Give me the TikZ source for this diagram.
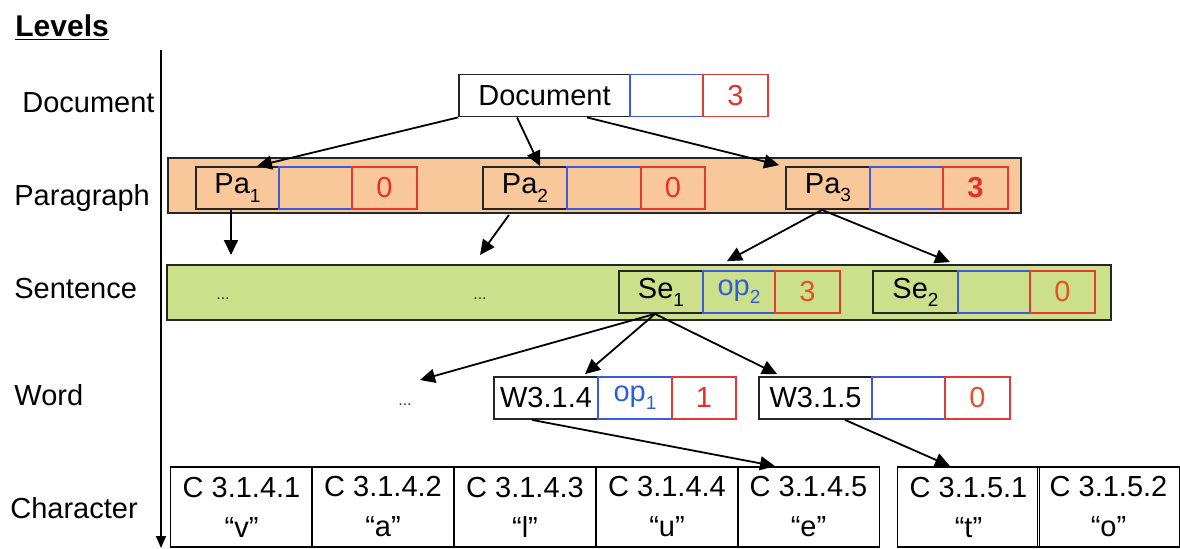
\documentclass[tikz,border=0pt]{standalone}
\usepackage{fontspec}
\setmainfont{Liberation Sans}
\usetikzlibrary{arrows.meta}
\definecolor{peach}{HTML}{F9C89A}
\definecolor{lgreen}{HTML}{CCE08B}
\definecolor{boxdark}{HTML}{262626}
\definecolor{boxblue}{HTML}{3C5ADC}
\definecolor{boxred}{HTML}{E43A36}
\definecolor{numred}{HTML}{E8302A}
\definecolor{numorange}{HTML}{E25225}
\definecolor{opblue}{HTML}{2F5FD8}
\newcommand\mysub[1]{\raisebox{-0.28em}{\fontsize{9.5}{10}\selectfont #1}}
\begin{document}
\begin{tikzpicture}[x=0.5pt,y=-0.5pt,
  txt/.style={font=\fontsize{14.5}{17}\selectfont, inner sep=0pt, text=black},
  bx/.style={txt, draw=#1, line width=0.9pt, minimum height=21pt, anchor=center},
  nm/.style={bx=boxdark},
  bl/.style={bx=boxblue, text=opblue},
  rd/.style={bx=boxred, text=numred},
  band/.style={draw=boxdark, line width=0.9pt, minimum height=27.5pt, inner sep=0pt},
  cell/.style={draw=black, line width=0.9pt, inner sep=0pt, minimum width=71pt, minimum height=40pt, align=center, font=\fontsize{14.5}{20}\selectfont},
  lvl/.style={txt, anchor=base west},
  dots/.style={font=\fontsize{8}{9}\selectfont, inner sep=0pt, text=black!80},
  arr/.style={-{Triangle[length=7.5pt,width=7pt]}, line width=0.9pt}]
\useasboundingbox (0,0) rectangle (1180,548);

% title and axis
\node[lvl, font=\bfseries\fontsize{15}{17}\selectfont] (title) at (15,36) {\underline{Levels}};
\coordinate (axtop) at (161,50);
\coordinate (axbot) at (161,548);
\draw[-{Triangle[length=6pt,width=5pt]}, line width=0.8pt] (axtop) -- (axbot);

% level labels
\node[lvl] (ldoc) at (22,112) {Document};
\node[lvl] (lpar) at (14,205) {Paragraph};
\node[lvl] (lsen) at (14,298) {Sentence};
\node[lvl] (lwor) at (14,405) {Word};
\node[lvl] (lcha) at (10,518) {Character};

% bands
\node[band, fill=peach, minimum width=426.5pt] (pband) at (594.5,185.5) {};
\node[band, fill=lgreen, minimum width=472pt] (sband) at (639,292.5) {};

% document row
\node[nm, minimum width=85.5pt] (doc) at (544.5,95.5) {Document};
\node[bl, minimum width=36.5pt] (docb) at (666.5,95.5) {};
\node[rd, minimum width=32.5pt] (docr) at (735.5,95.5) {3};

% paragraph row
\node[nm, minimum width=41.5pt] (pa1) at (237.5,188) {Pa\mysub{1}};
\node[bl, minimum width=36.5pt] (pa1b) at (315.5,188) {};
\node[rd, minimum width=32.5pt] (pa1r) at (384.5,188) {0};
\node[nm, minimum width=42pt] (pa2) at (525,188) {Pa\mysub{2}};
\node[bl, minimum width=37pt] (pa2b) at (604,188) {};
\node[rd, minimum width=32pt] (pa2r) at (673,188) {0};
\node[nm, minimum width=42pt] (pa3) at (828,188) {Pa\mysub{3}};
\node[bl, minimum width=36.5pt] (pa3b) at (906.5,188) {};
\node[rd, minimum width=32.5pt, font=\bfseries\fontsize{14.5}{17}\selectfont] (pa3r) at (975.5,188) {3};

% sentence row
\node[dots] (sd1) at (223,299) {...};
\node[dots] (sd2) at (480,299) {...};
\node[nm, minimum width=42pt] (se1) at (661,292) {Se\mysub{1}};
\node[bl, minimum width=36pt] (se1b) at (739,292) {op\mysub{2}};
\node[rd, minimum width=32.5pt, text=numorange] (se1r) at (807.5,292) {3};
\node[nm, minimum width=42.5pt] (se2) at (915.5,292) {Se\mysub{2}};
\node[bl, minimum width=36pt] (se2b) at (994,292) {};
\node[rd, minimum width=32.5pt, text=numorange] (se2r) at (1062.5,292) {0};

% word row
\node[dots] (wd) at (405,405) {...};
\node[nm, minimum width=52pt] (w4) at (546,398) {W3.1.4};
\node[bl, minimum width=37pt] (w4b) at (635,398) {op\mysub{1}};
\node[rd, minimum width=32pt] (w4r) at (704,398) {1};
\node[nm, minimum width=56.5pt] (w5) at (815.5,398) {W3.1.5};
\node[bl, minimum width=36.5pt] (w5b) at (908.5,398) {};
\node[rd, minimum width=32.5pt, text=numorange] (w5r) at (977.5,398) {0};

% character row
\node[cell] (c1) at (241.5,507) {C 3.1.4.1\\“v”};
\node[cell] (c2) at (383,507) {C 3.1.4.2\\“a”};
\node[cell] (c3) at (525,507) {C 3.1.4.3\\“l”};
\node[cell] (c4) at (667,507) {C 3.1.4.4\\“u”};
\node[cell] (c5) at (808.5,507) {C 3.1.4.5\\“e”};
\node[cell] (c6) at (968.5,507) {C 3.1.5.1\\“t”};
\node[cell] (c7) at (1108.5,507) {C 3.1.5.2\\“o”};

% free ends
\coordinate (s1) at (231,255);
\coordinate (s2) at (480,255);
\coordinate (wdot) at (420,380);

% connectors
\draw[arr] (doc.south west) -- ([xshift=9.75pt]pa1.north);
\draw[arr] ([xshift=-13.75pt]doc.south) -- ([xshift=7.5pt]pa2.north);
\draw[arr] ([xshift=21.25pt]doc.south) -- ([xshift=-3pt,yshift=0.5pt]pa3.north west);
\draw[arr] ([xshift=-3.25pt]pa1.south) -- (s1);
\draw[arr] ([xshift=-8pt,yshift=-2.5pt]pa2.south) -- (s2);
\draw[arr] ([xshift=-3pt]pa3.south) -- ([xshift=-6pt,yshift=4.5pt]se1b.north);
\draw[arr] ([xshift=-3pt]pa3.south) -- ([xshift=17.25pt,yshift=4pt]se2.north);
\draw[arr] ([xshift=-3pt]se1.south) -- (wdot);
\draw[arr] ([xshift=-3pt]se1.south) -- ([xshift=19.5pt,yshift=1pt]w4.north);
\draw[arr] ([xshift=-3pt]se1.south) -- ([xshift=9.5pt,yshift=1pt]w5.north west);
\draw[arr] ([xshift=-7pt]w4.south) -- ([xshift=-16.75pt]c5.north);
\draw[arr] ([xshift=14.75pt]w5.south) -- ([xshift=-9.25pt]c6.north);
\end{tikzpicture}
\end{document}
